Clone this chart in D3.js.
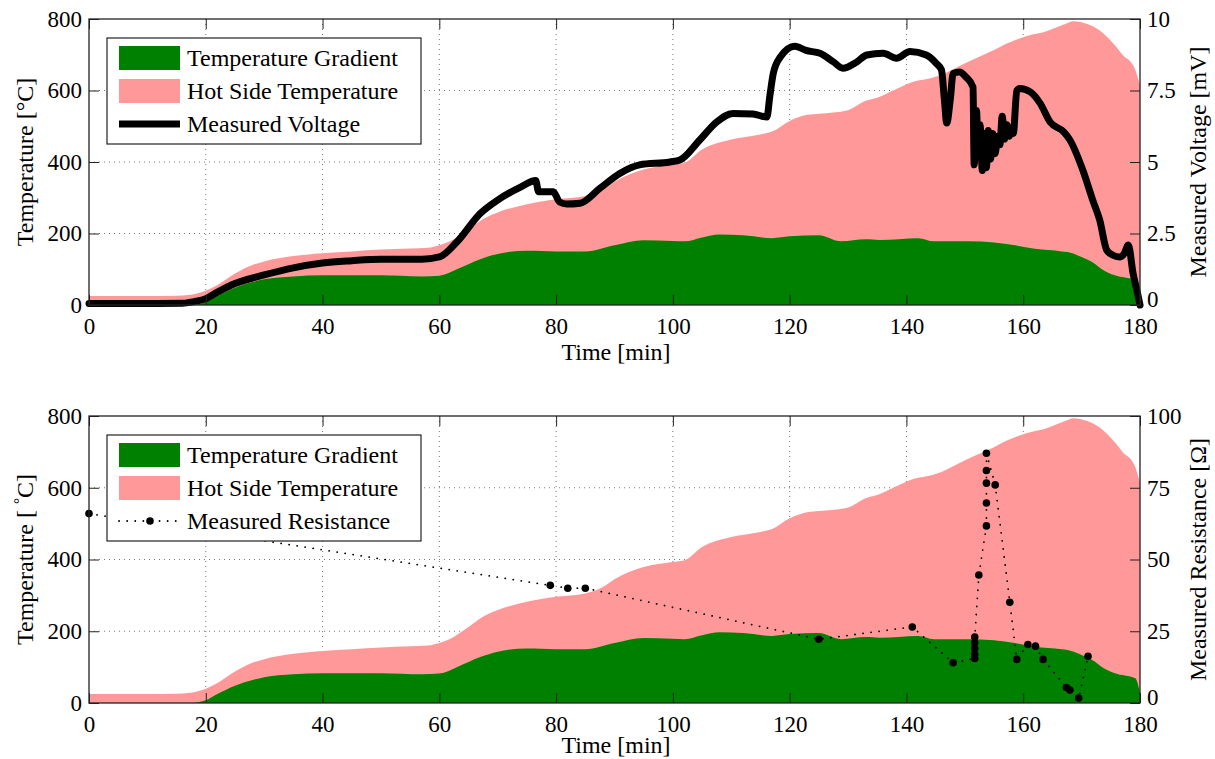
<!DOCTYPE html>
<html><head><meta charset="utf-8">
<script src="https://cdn.jsdelivr.net/npm/d3@7/dist/d3.min.js"></script>
<style>
body{margin:0;background:#fff;}
svg text{font-family:"Liberation Serif","Times New Roman",serif;fill:#000;}
</style></head>
<body><svg id="c" width="1215" height="759"></svg>
<script>
// ---- data ----
const hotTime = [0, 5, 10, 15, 17, 20, 22, 25, 28, 30, 35, 40, 45, 50, 55, 58, 60, 62, 65, 68, 70, 75, 80, 85, 88, 90, 95, 100, 102, 105, 110, 115, 117, 120, 123, 125, 130, 133, 135, 138, 141, 143.5, 146, 149, 152, 155, 157, 160.5, 164, 167.5, 168.5, 171, 173, 175.5, 177, 179, 180];
const hotTemp = [25, 25, 25, 26, 28, 40, 56, 88, 112, 122, 137, 145, 150, 155, 158, 160, 167, 180, 212, 245, 259, 282, 296, 305, 323, 345, 379, 393, 398, 435, 463, 477, 485, 515, 532, 535, 545, 571, 580, 602, 624, 632, 644, 668, 691, 713, 730, 752, 766, 788, 794, 786, 769, 730, 700, 665, 615];
const gradTime = [0, 17, 20, 22, 25, 28, 30, 35, 40, 50, 57, 60, 63, 67, 70, 75, 80, 85, 90, 95, 100, 102, 105, 108, 112, 117, 120, 125, 128.8, 133, 135.4, 142, 144.7, 150.6, 155, 158.6, 162, 166.6, 167.6, 170, 172.3, 173.4, 175.7, 179.2, 180];
const gradTemp = [0, 0, 8, 25, 48, 64, 72, 80, 83, 83, 80, 82, 100, 128, 143, 152, 150, 150, 167, 181, 179, 178, 189, 197, 195, 187, 192, 195, 178, 184, 182, 187, 178, 178, 175, 167, 157, 150, 148, 134, 115, 101, 83, 69, 28];
const vTime = [0, 10, 16, 18, 20, 22, 25, 30, 35, 40, 45, 50, 57, 60, 63, 67, 70, 74, 76.5, 77, 79.5, 80.6, 81.8, 84.1, 87.5, 90.9, 94.3, 99.5, 101.2, 104.6, 107.5, 110.3, 113.7, 116.1, 116.6, 117.2, 118.4, 120.9, 122.8, 125.2, 127.5, 129.1, 131.5, 133.2, 136, 138.3, 140.6, 143.4, 145.1, 146, 146.5, 146.9, 147.5, 148, 149.1, 150.2, 151.4, 151.6, 152.0, 152.3, 152.6, 153.0, 153.3, 153.7, 154.0, 154.4, 154.8, 155.2, 155.6, 156.0, 156.4, 156.8, 157.2, 157.6, 158.0, 158.3, 158.9, 159.4, 161.2, 162.9, 164.6, 166.9, 168, 170.2, 171.9, 173.1, 174.3, 175.3, 176.5, 177.3, 178, 178.8, 179.7, 180];
const vVal = [0.05, 0.05, 0.06, 0.12, 0.22, 0.45, 0.75, 1.05, 1.3, 1.47, 1.55, 1.6, 1.6, 1.68, 2.2, 3.2, 3.67, 4.13, 4.35, 3.96, 3.96, 3.6, 3.53, 3.56, 4.08, 4.6, 4.9, 5.0, 5.07, 5.77, 6.4, 6.7, 6.68, 6.57, 7.3, 8.1, 8.67, 9.05, 8.9, 8.8, 8.5, 8.28, 8.5, 8.74, 8.8, 8.63, 8.86, 8.74, 8.45, 8.22, 7.17, 6.36, 7.17, 8.1, 8.15, 7.97, 7.62, 4.9, 6.8, 5.2, 6.3, 4.7, 6.0, 4.8, 6.1, 5.1, 6.0, 5.3, 5.9, 5.6, 6.6, 5.8, 6.3, 5.9, 6.2, 6.0, 7.5, 7.57, 7.45, 7.05, 6.4, 6.06, 5.77, 4.72, 3.67, 2.97, 1.92, 1.75, 1.68, 1.8, 2.1, 1.12, 0.3, 0.0];
const rTime = [0, 79, 82, 85, 125, 141, 148, 151.7, 151.7, 151.7, 151.7, 151.7, 152.4, 153.7, 153.7, 153.7, 153.7, 153.7, 155.2, 157.7, 158.9, 160.8, 162.1, 163.4, 167.4, 168, 169.5, 171.1];
const rVal = [66, 41, 40, 40, 22.2, 26.5, 14, 15.5, 17, 19, 21, 23, 44.6, 61.7, 69.7, 76.6, 81, 87, 76, 35.1, 15.2, 20.4, 19.8, 15.2, 5.4, 4.5, 1.7, 16.3];
const xTicks = [0, 20, 40, 60, 80, 100, 120, 140, 160, 180];
const tempTicks = [0, 200, 400, 600, 800];
const voltTicks = [0, 2.5, 5, 7.5, 10];
const resTicks = [0, 25, 50, 75, 100];
const legendTop = ["Temperature Gradient", "Hot Side Temperature", "Measured Voltage"];
const legendBottom = ["Temperature Gradient", "Hot Side Temperature", "Measured Resistance"];

const GREEN = "#008000", PINK = "#ff9999", FS = 24, TFS = 23;
const svg = d3.select("#c");
const X0 = 89, X1 = 1140;

function panel(y0, y1, rDomain, rTicks) {
  const g = svg.append("g");
  const x = d3.scaleLinear([0, 180], [X0, X1]);
  const yL = d3.scaleLinear([0, 800], [y1, y0]);
  const yR = d3.scaleLinear(rDomain, [y1, y0]);
  const grid = g.append("g").attr("stroke", "#777").attr("stroke-width", 1).attr("stroke-dasharray", "1,4");
  xTicks.slice(1, -1).forEach(t => grid.append("line").attr("x1", x(t)).attr("x2", x(t)).attr("y1", y0).attr("y2", y1));
  tempTicks.slice(1, -1).forEach(t => grid.append("line").attr("x1", X0).attr("x2", X1).attr("y1", yL(t)).attr("y2", yL(t)));
  const hot = hotTime.map((t, i) => [t, hotTemp[i]]);
  const grad = gradTime.map((t, i) => [t, gradTemp[i]]);
  const area = d3.area().x(d => x(d[0])).y0(yL(0)).y1(d => yL(d[1])).curve(d3.curveMonotoneX);
  g.append("path").attr("d", area(hot)).attr("fill", PINK);
  g.append("path").attr("d", area(grad)).attr("fill", GREEN);
  return {g, x, yL, yR, y0, y1, rTicks};
}

function axes(p, leftTitle, rightTitle, xTitleY) {
  const {g, x, yL, yR, y0, y1, rTicks} = p;
  const ax = g.append("g");
  const style = s => { s.attr("font-size", TFS).attr("font-family", "Liberation Serif"); s.select(".domain").remove(); s.selectAll("line").attr("stroke", "#222"); s.selectAll("text").attr("fill", "#000"); };
  ax.append("g").attr("transform", `translate(0,${y1})`)
    .call(d3.axisBottom(x).tickValues(xTicks).tickSize(-10).tickPadding(13).tickFormat(d3.format("d"))).call(style);
  ax.append("g").attr("transform", `translate(0,${y0})`)
    .call(d3.axisTop(x).tickValues(xTicks).tickSize(-10).tickFormat("")).call(style);
  ax.append("g").attr("transform", `translate(${X0},0)`)
    .call(d3.axisLeft(yL).tickValues(tempTicks).tickSize(-10).tickPadding(7).tickFormat(d3.format("d"))).call(style);
  const ra = ax.append("g").attr("transform", `translate(${X1},0)`)
    .call(d3.axisRight(yR).tickValues(rTicks).tickSize(-10).tickPadding(7).tickFormat(d => String(d))).call(style);
  ra.selectAll(".tick text").filter(d => d === 0).attr("dy", "0.08em");
  g.append("rect").attr("x", X0).attr("y", y0).attr("width", X1 - X0).attr("height", y1 - y0)
    .attr("fill", "none").attr("stroke", "#222").attr("stroke-width", 1.3);
  const cy = (y0 + y1) / 2;
  const lt = g.append("text").attr("transform", `translate(33,${cy}) rotate(-90)`).attr("text-anchor", "middle").style("font-size", FS + "px");
  leftTitle(lt);
  g.append("text").attr("transform", `translate(1206,${cy}) rotate(-90)`).attr("text-anchor", "middle").style("font-size", FS + "px").text(rightTitle);
  g.append("text").attr("x", 616).attr("y", xTitleY).attr("text-anchor", "middle").style("font-size", FS + "px").text("Time [min]");
}

function legend(g, y, labels, third) {
  const L = g.append("g");
  L.append("rect").attr("x", 107).attr("y", y).attr("width", 314).attr("height", 106).attr("fill", "#fff").attr("stroke", "#222").attr("stroke-width", 1.2);
  L.append("rect").attr("x", 119).attr("y", y + 8).attr("width", 61).attr("height", 24).attr("fill", GREEN);
  L.append("rect").attr("x", 119).attr("y", y + 41).attr("width", 61).attr("height", 24).attr("fill", PINK);
  third(L, y + 86);
  labels.forEach((t, i) => L.append("text").attr("x", 187).attr("y", y + 28 + i * 33).style("font-size", FS + "px").text(t));
}

// ---- top panel ----
const topP = panel(19, 305, [0, 10], voltTicks);
const vLine = d3.line().x((d, i) => topP.x(vTime[i])).y(d => topP.yR(d)).curve(d3.curveMonotoneX);
topP.g.append("path").attr("d", vLine(vVal)).attr("fill", "none").attr("stroke", "#000").attr("stroke-width", 7).attr("stroke-linejoin", "round").attr("stroke-linecap", "round");
axes(topP, t => t.text("Temperature [°C]"), "Measured Voltage [mV]", 360);
legend(topP.g, 38, legendTop, (L, yy) => L.append("line").attr("x1", 119).attr("x2", 180).attr("y1", yy).attr("y2", yy).attr("stroke", "#000").attr("stroke-width", 7));

// ---- bottom panel ----
const botP = panel(416, 703, [0, 100], resTicks);
const rLine = d3.line().x((d, i) => botP.x(rTime[i])).y(d => botP.yR(d));
botP.g.append("path").attr("d", rLine(rVal)).attr("fill", "none").attr("stroke", "#000").attr("stroke-width", 1.8).attr("stroke-dasharray", "0.1,8").attr("stroke-linecap", "round");
botP.g.append("g").selectAll("circle").data(rVal).join("circle")
  .attr("cx", (d, i) => botP.x(rTime[i])).attr("cy", d => botP.yR(d)).attr("r", 3.8).attr("fill", "#000");
axes(botP, t => { t.append("tspan").text("Temperature [ "); t.append("tspan").attr("dy", -9).style("font-size", "15px").text("°"); t.append("tspan").attr("dy", 9).text("C]"); }, "Measured Resistance [Ω]", 753);
legend(botP.g, 435, legendBottom, (L, yy) => {
  L.append("line").attr("x1", 119).attr("x2", 180).attr("y1", yy).attr("y2", yy).attr("stroke", "#000").attr("stroke-width", 1.8).attr("stroke-dasharray", "0.1,8").attr("stroke-linecap", "round");
  L.append("circle").attr("cx", 150).attr("cy", yy).attr("r", 3.8).attr("fill", "#000");
});
</script></body></html>
